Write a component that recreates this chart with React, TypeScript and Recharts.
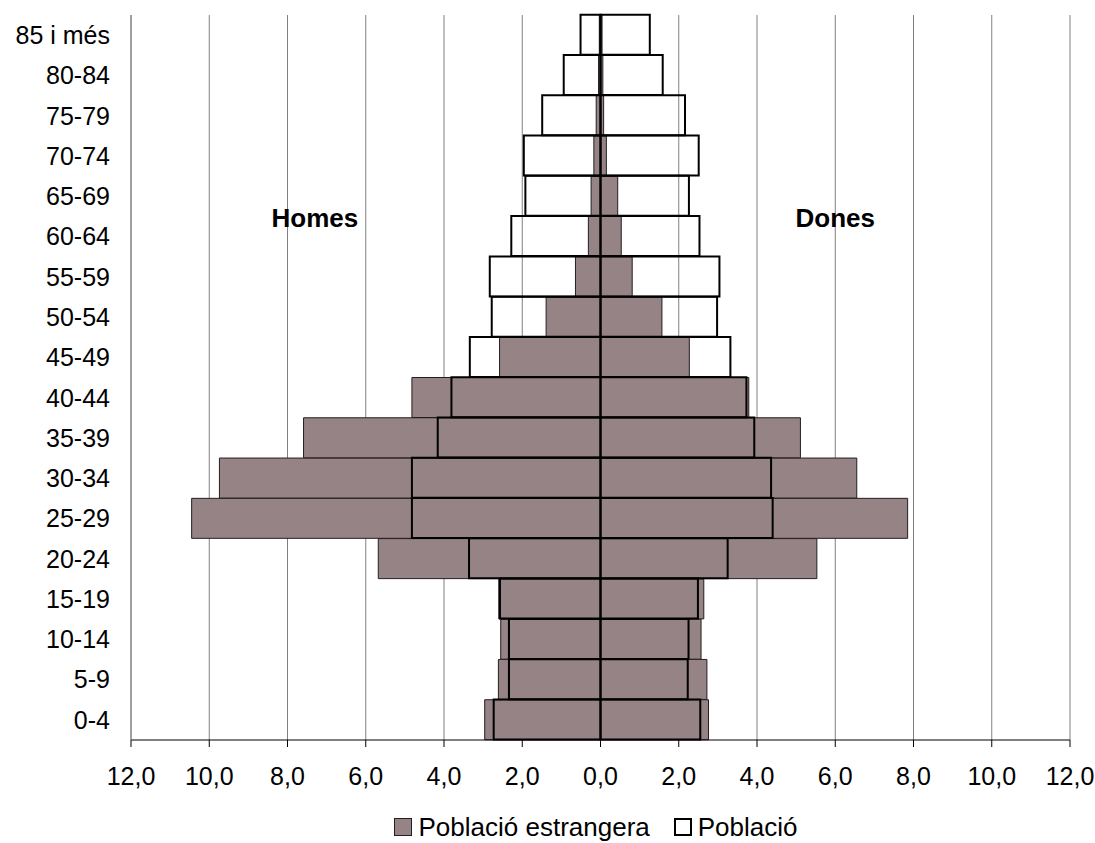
import { BarChart, Bar, XAxis, YAxis, CartesianGrid, Legend, ReferenceDot } from 'recharts';

// age groups, bottom to top
const AGE_GROUPS = [
  '0-4', '5-9', '10-14', '15-19', '20-24', '25-29', '30-34', '35-39', '40-44',
  '45-49', '50-54', '55-59', '60-64', '65-69', '70-74', '75-79', '80-84', '85 i més',
];

// % of each population, men are drawn to the left
const FOREIGN_MEN = [2.96, 2.61, 2.55, 2.6, 5.68, 10.45, 9.74, 7.59, 4.82, 2.58, 1.39, 0.64, 0.31, 0.24, 0.17, 0.11, 0.05, 0.03];
const FOREIGN_WOMEN = [2.76, 2.72, 2.57, 2.64, 5.53, 7.85, 6.55, 5.11, 3.79, 2.27, 1.57, 0.81, 0.53, 0.44, 0.15, 0.08, 0.06, 0.04];
const TOTAL_MEN = [2.73, 2.34, 2.34, 2.57, 3.36, 4.82, 4.82, 4.16, 3.81, 3.34, 2.78, 2.83, 2.28, 1.92, 1.96, 1.49, 0.94, 0.51];
const TOTAL_WOMEN = [2.55, 2.23, 2.25, 2.49, 3.25, 4.4, 4.36, 3.93, 3.73, 3.32, 2.98, 3.04, 2.53, 2.26, 2.51, 2.16, 1.59, 1.26];

const X_TICKS = [-12, -10, -8, -6, -4, -2, 0, 2, 4, 6, 8, 10, 12];

const FOREIGN_FILL = '#968385';
const GRID = '#808080';

const data = AGE_GROUPS.map((age, i) => ({
  age,
  foreignMen: -FOREIGN_MEN[i],
  foreignWomen: FOREIGN_WOMEN[i],
  totalMen: -TOTAL_MEN[i],
  totalWomen: TOTAL_WOMEN[i],
}));

const fmt = (v: number) => Math.abs(v).toFixed(1).replace('.', ',');

const marker = (fill: string, border: string) => ({
  display: 'inline-block',
  boxSizing: 'border-box' as const,
  width: 18,
  height: 18,
  background: fill,
  border,
  marginRight: 7,
});

const PyramidLegend = () => (
  <div
    style={{
      display: 'flex',
      justifyContent: 'center',
      alignItems: 'center',
      height: 40,
      fontSize: 26,
      color: '#000',
      whiteSpace: 'nowrap',
    }}
  >
    <span style={marker(FOREIGN_FILL, '1px solid #231f20')} />
    <span style={{ marginRight: 24 }}>Població estrangera</span>
    <span style={{ ...marker('#fff', '2px solid #000'), marginRight: 6 }} />
    <span>Població</span>
  </div>
);

export default function App() {
  return (
    <div
      style={{
        position: 'absolute',
        left: 0,
        top: 0,
        width: 1095,
        height: 843,
        overflow: 'hidden',
        background: '#fff',
        fontFamily: '"Liberation Sans", Arial, sans-serif',
      }}
    >
      <BarChart
        width={1095}
        height={860}
        data={data}
        layout="vertical"
        stackOffset="sign"
        barCategoryGap={0}
        barGap="-100%"
        margin={{ top: 15, right: 25, left: 0, bottom: 13 }}
      >
        <CartesianGrid horizontal={false} stroke={GRID} />
        <XAxis
          type="number"
          domain={[-12, 12]}
          ticks={X_TICKS}
          interval={0}
          tickFormatter={fmt}
          height={67}
          tickSize={7}
          tickMargin={20}
          axisLine={{ stroke: '#000' }}
          tickLine={{ stroke: '#000' }}
          tick={{ fill: '#000', fontSize: 25 }}
        />
        <XAxis
          xAxisId="top"
          orientation="top"
          type="number"
          domain={[-12, 12]}
          height={0}
          tick={false}
          tickLine={false}
          axisLine={{ stroke: GRID }}
        />
        <YAxis
          type="category"
          dataKey="age"
          reversed
          interval={0}
          width={131}
          tickSize={0}
          tickMargin={21}
          tickLine={false}
          axisLine={{ stroke: GRID }}
          tick={{ fill: '#000', fontSize: 25 }}
        />
        <Legend
          verticalAlign="bottom"
          wrapperStyle={{ left: 126, width: 939 }}
          content={() => <PyramidLegend />}
        />
        <Bar dataKey="foreignMen" stackId="f" fill={FOREIGN_FILL} stroke="#231f20" strokeWidth={1} isAnimationActive={false} />
        <Bar dataKey="foreignWomen" stackId="f" fill={FOREIGN_FILL} stroke="#231f20" strokeWidth={1} isAnimationActive={false} />
        <Bar dataKey="totalMen" stackId="t" fill="none" stroke="#000" strokeWidth={2} isAnimationActive={false} />
        <Bar dataKey="totalWomen" stackId="t" fill="none" stroke="#000" strokeWidth={2} isAnimationActive={false} />
        <ReferenceDot
          x={-7.3}
          y="60-64"
          r={0}
          fill="none"
          stroke="none"
          label={{ value: 'Homes', position: 'top', offset: 10, fill: '#000', fontSize: 26, fontWeight: 'bold' }}
        />
        <ReferenceDot
          x={6.0}
          y="60-64"
          r={0}
          fill="none"
          stroke="none"
          label={{ value: 'Dones', position: 'top', offset: 10, fill: '#000', fontSize: 26, fontWeight: 'bold' }}
        />
      </BarChart>
    </div>
  );
}
